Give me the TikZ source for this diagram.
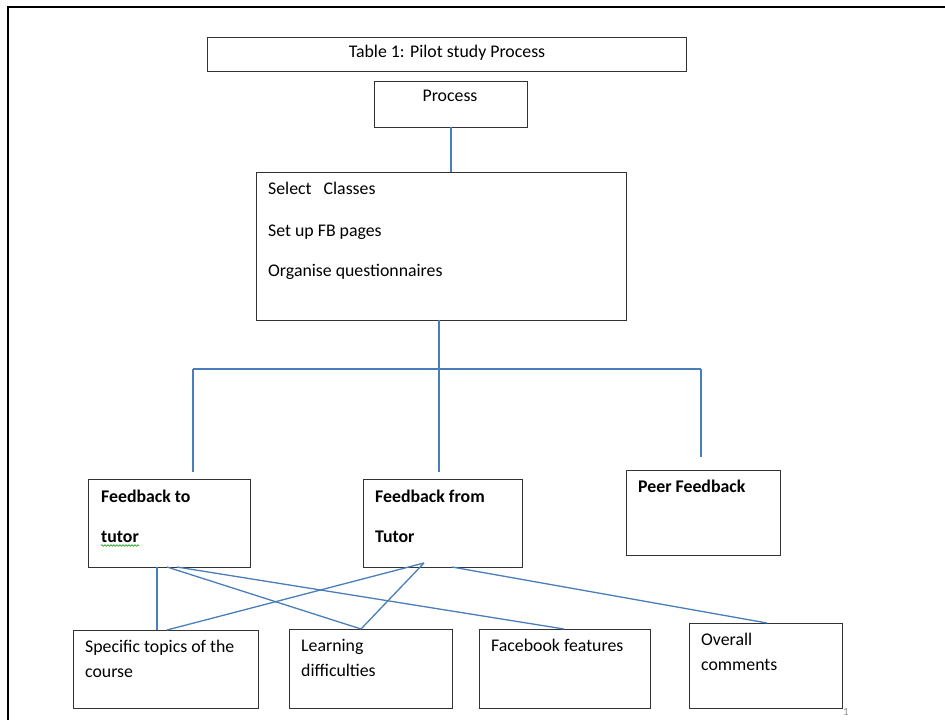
\documentclass[tikz,border=0pt]{standalone}
\usepackage{fontspec}
\setmainfont{Carlito}
\usetikzlibrary{calc,decorations.pathmorphing}
\definecolor{connblue}{RGB}{74,126,187}
\begin{document}
\begin{tikzpicture}[x=1bp,y=-1bp,
  box/.style={draw=black!80,line width=1.1bp,anchor=north west,inner sep=0pt},
  conn/.style={draw=connblue,line width=1.3bp},
  txt/.style={anchor=base west,inner sep=0pt,font=\fontsize{17.8bp}{20bp}\selectfont},
  btxt/.style={txt,font=\fontsize{17.8bp}{20bp}\selectfont\bfseries},
  frame/.style={draw=black,line width=2bp}]
\useasboundingbox (0,0) rectangle (945,720);
% outer page frame
\coordinate (fTL) at (8,7);
\coordinate (fTR) at (946,7);
\coordinate (fBL) at (8,721);
\draw[frame] (fBL) -- (fTL) -- (fTR);
% boxes
\node[box,minimum width=479bp,minimum height=34bp] (title) at (207,37) {};
\node[box,minimum width=153bp,minimum height=46bp] (proc) at (374,81) {};
\node[box,minimum width=370bp,minimum height=148bp] (main) at (256,172) {};
\node[box,minimum width=162bp,minimum height=88bp] (ftt) at (88,479) {};
\node[box,minimum width=159bp,minimum height=88bp] (fft) at (363,479) {};
\node[box,minimum width=154bp,minimum height=85bp] (peer) at (626,470) {};
\node[box,minimum width=185bp,minimum height=78bp] (spec) at (73,630) {};
\node[box,minimum width=163bp,minimum height=79bp] (learn) at (289,629) {};
\node[box,minimum width=171bp,minimum height=79bp] (fb) at (479,629) {};
\node[box,minimum width=153bp,minimum height=85bp] (over) at (689,623) {};
% texts
\node[txt,anchor=base] (tTitle) at (447,58) {Table 1: Pilot study Process};
\node[txt,anchor=base] (tProc) at (450,102) {Process};
\node[txt] (t1) at (268,194) {Select\hspace{8bp} Classes};
\node[txt] (t2) at (268,236) {Set up FB pages};
\node[txt] (t3) at (268,276) {Organise questionnaires};
\node[btxt] (t4) at (101,502) {Feedback to};
\node[btxt] (t5) at (101,542) {tutor};
\node[btxt] (t6) at (375,502) {Feedback from};
\node[btxt] (t7) at (375,542) {Tutor};
\node[btxt] (t8) at (638,492) {Peer Feedback};
\node[txt] (t9) at (85,652) {Specific topics of the};
\node[txt] (t10) at (85,677) {course};
\node[txt] (t11) at (301,651) {Learning};
\node[txt] (t12) at (301,676) {difficulties};
\node[txt] (t13) at (491,651) {Facebook features};
\node[txt] (t14) at (701,645) {Overall};
\node[txt] (t15) at (701,670) {comments};
\node[anchor=base,inner sep=0pt,text=black!45,font=\fontsize{11bp}{13bp}\selectfont] (pg) at (846,715) {1};
% spell-check underline
\draw[green!60!black,line width=0.6bp,decorate,decoration={snake,amplitude=0.8bp,segment length=3bp}]
  ($(t5.base west)+(0,3.5)$) -- ($(t5.base east)+(0,3.5)$);
% connectors
\coordinate (pDown) at (451,127);
\coordinate (mDown) at (439,320);
\coordinate (busL) at (193,369);
\coordinate (busR) at (701,369);
\coordinate (endL) at (193,472);
\coordinate (endM) at (439,472);
\coordinate (endR) at (701,457);
\draw[conn] (pDown) -- (pDown |- main.north);
\draw[conn] (mDown) -- (endM);
\draw[conn] (busL) -- (busR);
\draw[conn] (busL) -- (endL);
\draw[conn] (busR) -- (endR);
\coordinate (fttA) at (157,567);
\coordinate (fttB) at (167,567);
\coordinate (fttC) at (177,567);
\coordinate (fftA) at (424,563);
\coordinate (fftB) at (452,567);
\draw[conn] (fttA) -- (fttA |- spec.north);
\draw[conn] (fttB) -- ($(learn.north west)+(72,0)$);
\draw[conn] (fttC) -- ($(fb.north west)+(85,0)$);
\draw[conn] (fftA) -- ($(spec.north west)+(94,0)$);
\draw[conn] (fftA) -- ($(learn.north west)+(72,0)$);
\draw[conn] (fftB) -- ($(over.north west)+(78,0)$);
\end{tikzpicture}
\end{document}
